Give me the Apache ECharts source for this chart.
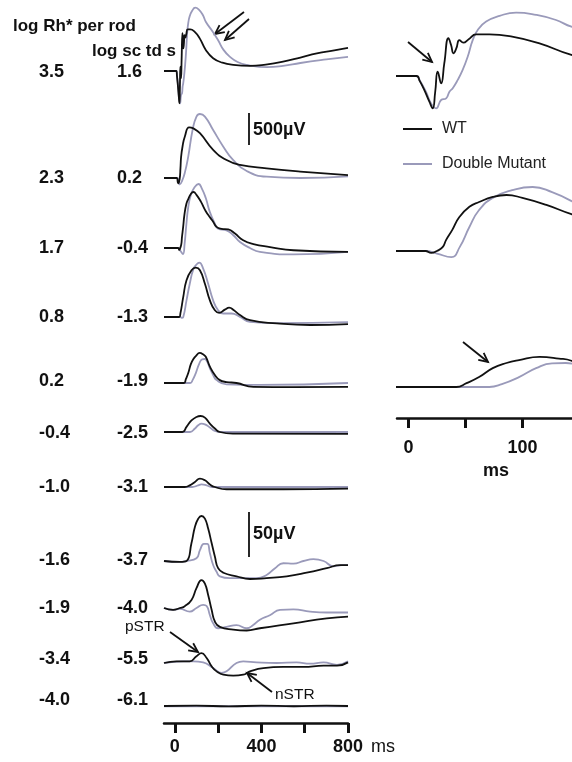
<!DOCTYPE html>
<html><head><meta charset="utf-8">
<script src="https://cdn.jsdelivr.net/npm/echarts@6/dist/echarts.min.js"></script>
<style>html,body{margin:0;padding:0;background:#fff}#c{width:572px;height:762px}</style>
</head><body><div id="c"></div>
<script>
// ---------- DATA (time ms, response µV) ----------
const wt1 = [[-50,0],[7,0],[10,-80],[14,-220],[18.4,-400],[21.3,-505],[23.5,-250],[25.7,67],[28.7,-115],[31.5,200],[35.1,590],[37.5,480],[39.5,355],[42,430],[44.7,560],[48.2,520],[52.9,575],[59.4,650],[71,650],[91,615],[115,510],[143,330],[177,200],[220,130],[270,95],[347,80],[420,100],[500,145],[580,210],[656,275],[730,320],[800,360]];
const dm1 = [[-50,0],[7,0],[10,-70],[15.5,-250],[19.9,-430],[24.3,-505],[28.7,-375],[33.1,-350],[36,-245],[38.9,-190],[43.3,-60],[47.6,95],[52,300],[56.4,560],[60.8,720],[68.2,850],[80,940],[94.5,990],[112,955],[129.5,875],[143,770],[176,610],[200,480],[225,330],[255,220],[290,140],[333,95],[425,60],[500,80],[580,125],[700,180],[800,220]];
const wt2 = [[-50,0],[8,0],[15,-85],[22,-20],[26,150],[29,330],[36,500],[46,645],[66,790],[85,775],[116,700],[177,440],[239,280],[301,205],[424,150],[579,100],[800,45]];
const dm2 = [[-50,0],[10,0],[23,-100],[34,-40],[46,80],[62,335],[82,750],[100,960],[116,1000],[139,960],[177,750],[224,490],[270,280],[332,110],[424,20],[579,0],[800,25]];
const wt3 = [[-50,0],[15,0],[20,-30],[25,0],[30,60],[33,170],[38.5,330],[44.7,530],[53.5,690],[62,765],[74,845],[86,875],[100,830],[121,720],[143,575],[162,480],[177,410],[193,330],[216,300],[247,290],[278,225],[316,120],[363,60],[440,15],[548,-35],[800,-60]];
const dm3 = [[-50,0],[15,0],[25,-40],[37.7,-95],[45,60],[53.5,375],[62,640],[74,830],[91,950],[109,1000],[126,920],[143,780],[162,560],[185,380],[200,300],[239,275],[270,200],[301,95],[347,0],[393,-60],[548,-100],[800,-60]];
const wt4 = [[-50,0],[20,0],[26,60],[39,315],[54,575],[77,730],[97,770],[116,730],[139,520],[162,260],[185,105],[205,65],[231,115],[251,145],[273,105],[301,30],[347,-50],[471,-100],[625,-125],[800,-110]];
const dm4 = [[-50,0],[25,0],[32,-15],[39,0],[54,260],[69,520],[85,740],[100,820],[113,850],[131,755],[154,520],[177,260],[200,105],[224,55],[262,55],[301,0],[347,-75],[471,-95],[800,-80]];
const wt5 = [[-50,0],[42,0],[51,60],[62,155],[74,295],[86,375],[97,420],[115,470],[132,445],[143,410],[162,255],[185,125],[208,45],[239,15],[285,0],[363,-60],[548,-65],[800,-60]];
const dm5 = [[-50,0],[71,0],[82,45],[97,155],[112,295],[126,370],[138,375],[150,330],[162,230],[177,125],[193,45],[239,-20],[393,-30],[800,0]];
const wt6 = [[-50,0],[35,0],[54,80],[77,180],[100,235],[119,250],[139,225],[162,130],[185,55],[208,0],[270,-25],[800,-30]];
const dm6 = [[-50,0],[70,0],[93,55],[108,105],[123,130],[139,120],[162,70],[185,15],[208,0],[800,0]];
const wt7 = [[-50,0],[45,0],[69,25],[93,80],[116,130],[139,105],[162,40],[185,0],[239,-35],[500,-35],[800,-25]];
const dm7 = [[-50,0],[80,0],[108,25],[123,40],[147,25],[170,0],[800,0]];
const wt8 = [[-50,0],[23,-1],[54,0],[77,20],[93,38],[108,47],[123,50],[139,47],[154,36],[170,20],[185,5],[200,-8],[224,-13],[285,-17],[347,-20],[424,-19],[517,-17],[609,-13],[702,-8],[764,-4.5],[800,-4.5]];
const dm8 = [[-50,0],[23,-1],[54,0],[100,3],[116,12],[134,19],[150,19],[162,8.5],[177,-4.5],[193,-12],[208,-17],[255,-19],[316,-19],[378,-19],[424,-15.5],[463,-8],[501,-2.5],[548,-3],[594,0],[640,2],[687,0],[733,-6],[772,-4.5],[800,-4.5]];
const wt9 = [[-50,0],[-8,-2],[23,0],[46,2],[77,9],[100,22],[123,31],[139,27],[154,14.5],[170,-2],[185,-15],[208,-21],[270,-24],[332,-25],[393,-22.5],[548,-17],[702,-11.5],[800,-9.5]];
const dm9 = [[-50,0],[-8,-2],[23,-1],[69,-4],[100,0],[131,3.5],[147,2.2],[162,-8],[177,-17],[200,-22.5],[239,-21],[285,-19],[332,-22.5],[362,-19],[393,-13],[439,-8],[486,-2],[548,-1.5],[625,-4],[702,-5],[800,-5]];
const wt10 = [[-50,0],[8,1.8],[69,1.8],[100,7.5],[123,11],[147,5.5],[170,-3.7],[193,-9.3],[224,-13],[270,-14],[316,-13],[347,-9.3],[409,-5.6],[501,-4.4],[594,-4.4],[687,-3],[749,-3],[800,0.7]];
const dm10 = [[-50,0],[39,1.8],[85,1.8],[131,0.7],[177,-5.6],[216,-11],[239,-9.3],[285,0],[316,1.8],[378,0.7],[471,0],[563,0.7],[625,-0.8],[687,0.7],[749,-2],[800,2]];
const wt11 = [[-50,0],[100,0.5],[250,-0.5],[400,0.5],[550,-0.3],[700,0.4],[800,0]];
const dm11 = [[-50,-0.3],[800,-0.3]];

const rhLabels = ['3.5','2.3','1.7','0.8','0.2','-0.4','-1.0','-1.6','-1.9','-3.4','-4.0'];
const scLabels = ['1.6','0.2','-0.4','-1.3','-1.9','-2.5','-3.1','-3.7','-4.0','-5.5','-6.1'];
const leftTicks = [0,200,400,600,800];
const leftTickLabels = [0,400,800];
const rightTicks = [0,50,100];
const rightTickLabels = [0,100];
const scaleBarValues = [500, 50]; // µV
const seriesNames = ['WT','Double Mutant'];

// ---------- LAYOUT ----------
const WT_LIST = [wt1,wt2,wt3,wt4,wt5,wt6,wt7,wt8,wt9,wt10,wt11];
const DM_LIST = [dm1,dm2,dm3,dm4,dm5,dm6,dm7,dm8,dm9,dm10,dm11];
const LEFT_BASE = [71,178,248,317,383,432,487,561,608,663,706];
const LABEL_Y = [72,178,248,317,381,433,487,560,608,659,700];
const GAIN_TOP = 0.064, GAIN_LOW = 0.9; // px per µV
const GAIN = [GAIN_TOP,GAIN_TOP,GAIN_TOP,GAIN_TOP,GAIN_TOP,GAIN_TOP,GAIN_TOP,GAIN_LOW,GAIN_LOW,GAIN_LOW,GAIN_LOW];
const RIGHT_IDX = [0,2,4];
const RIGHT_BASE = [76,251,387];
const RIGHT_TOP = [0,170,315];
const RIGHT_BOTTOM = [140,300,418];
const BLACK = '#111', GRAY = '#9a9aba';
const FONT = 'Liberation Sans, Arial, Helvetica, sans-serif';
const LW = 1.8;

const grids = [], xAxes = [], yAxes = [], series = [];
function addPanel(base, top, bottom, gain, left, width, xmin, xmax, showAxis, isRight, wt, dm) {
  const idx = grids.length;
  grids.push({left, width, top, height: bottom - top, outerBoundsMode: 'none', containLabel: false});
  const ax = {type:'value', gridIndex: idx, min: xmin, max: xmax, show: showAxis, splitLine:{show:false}};
  if (showAxis) {
    Object.assign(ax, {
      axisLine:{show:true, onZero:false, lineStyle:{color:BLACK, width:2.5}},
      axisTick:{show:true, length:10, inside:false, customValues: isRight ? rightTicks : leftTicks, lineStyle:{color:BLACK, width:3}},
      axisLabel:{show:true, customValues: isRight ? rightTickLabels : leftTickLabels, margin: isRight ? 21 : 15,
        fontSize:18, fontWeight:'bold', color:BLACK, fontFamily:FONT}
    });
  }
  xAxes.push(ax);
  yAxes.push({type:'value', gridIndex: idx, show:false, min: -(bottom-base)/gain, max: (base-top)/gain, splitLine:{show:false}});
  const common = {type:'line', xAxisIndex: idx, yAxisIndex: idx, showSymbol:false, symbol:'none', smooth:0.5, clip:true, animation:false, silent:true};
  series.push(Object.assign({}, common, {name: seriesNames[1], data: dm, lineStyle:{color:GRAY, width:LW}, itemStyle:{color:GRAY}, z:2}));
  series.push(Object.assign({}, common, {name: seriesNames[0], data: wt, lineStyle:{color:BLACK, width:LW}, itemStyle:{color:BLACK}, z:3}));
}
// left panel
for (let i = 0; i < 11; i++) {
  const base = LEFT_BASE[i];
  const top = Math.max(0, base - 75);
  const bottom = i === 10 ? 723 : base + 40;
  addPanel(base, top, bottom, GAIN[i], 164, 184, -50, 800, i === 10, false, WT_LIST[i], DM_LIST[i]);
}
// right panel (expanded time scale)
for (let j = 0; j < 3; j++) {
  const i = RIGHT_IDX[j];
  addPanel(RIGHT_BASE[j], RIGHT_TOP[j], RIGHT_BOTTOM[j], GAIN[i], 397, 175, -10, 143.5, j === 2, true, WT_LIST[i], DM_LIST[i]);
}

// ---------- GRAPHIC ANNOTATIONS ----------
const graphic = [];
function txt(x, y, text, size, weight, align) {
  graphic.push({type:'text', x, y, silent:true, style:{text, fontSize:size, fontWeight:weight||'normal', fontFamily:FONT, fill:BLACK, align:align||'left', verticalAlign:'middle'}});
}
function arrow(x1, y1, x2, y2) {
  const a = Math.atan2(y2 - y1, x2 - x1), L = 10, h = 0.45;
  graphic.push({type:'line', silent:true, shape:{x1,y1,x2,y2}, style:{stroke:BLACK, lineWidth:1.8}});
  graphic.push({type:'polyline', silent:true, shape:{points:[
    [x2 - L*Math.cos(a - h), y2 - L*Math.sin(a - h)], [x2, y2], [x2 - L*Math.cos(a + h), y2 - L*Math.sin(a + h)]]},
    style:{stroke:BLACK, lineWidth:1.8, fill:null}});
}
txt(13, 26, 'log Rh* per rod', 17, 'bold');
txt(92, 51, 'log sc td s', 17, 'bold');
for (let i = 0; i < 11; i++) {
  txt(39, LABEL_Y[i], rhLabels[i], 18, 'bold');
  txt(117, LABEL_Y[i], scLabels[i], 18, 'bold');
}
// scale bars (length from gain)
const bar1 = scaleBarValues[0] * GAIN_TOP, bar2 = scaleBarValues[1] * GAIN_LOW;
graphic.push({type:'line', silent:true, shape:{x1:249, y1:129 - bar1/2, x2:249, y2:129 + bar1/2}, style:{stroke:BLACK, lineWidth:1.8}});
txt(253, 130, scaleBarValues[0] + 'µV', 18, 'bold');
graphic.push({type:'line', silent:true, shape:{x1:249, y1:534.5 - bar2/2, x2:249, y2:534.5 + bar2/2}, style:{stroke:BLACK, lineWidth:1.8}});
txt(253, 534, scaleBarValues[1] + 'µV', 18, 'bold');
// axis unit labels
txt(371, 747, 'ms', 18, 'normal');
txt(496, 471, 'ms', 18, 'bold', 'center');
// arrows
arrow(244, 12, 215, 34);
arrow(249, 19, 225, 40);
arrow(408, 42, 432, 62);
arrow(463, 342, 488, 362);
arrow(170, 632, 198, 652);
arrow(272, 692, 247, 673);
txt(125, 627, 'pSTR', 15.5, 'normal');
txt(275, 695, 'nSTR', 15.5, 'normal');

const chart = echarts.init(document.getElementById('c'), null, {renderer:'canvas'});
chart.setOption({
  animation:false,
  backgroundColor:'#fff',
  grid: grids, xAxis: xAxes, yAxis: yAxes, series,
  legend: {data: [{name: seriesNames[0], icon:'rect', itemStyle:{color:BLACK}}, {name: seriesNames[1], icon:'rect', itemStyle:{color:GRAY}}],
    orient:'vertical', left:403, top:121, padding:0, itemGap:19,
    itemWidth:29, itemHeight:2, selectedMode:false,
    textStyle:{fontSize:16, color:'#222', fontFamily:FONT, padding:[0,0,0,5]}},
  graphic
});
</script></body></html>
